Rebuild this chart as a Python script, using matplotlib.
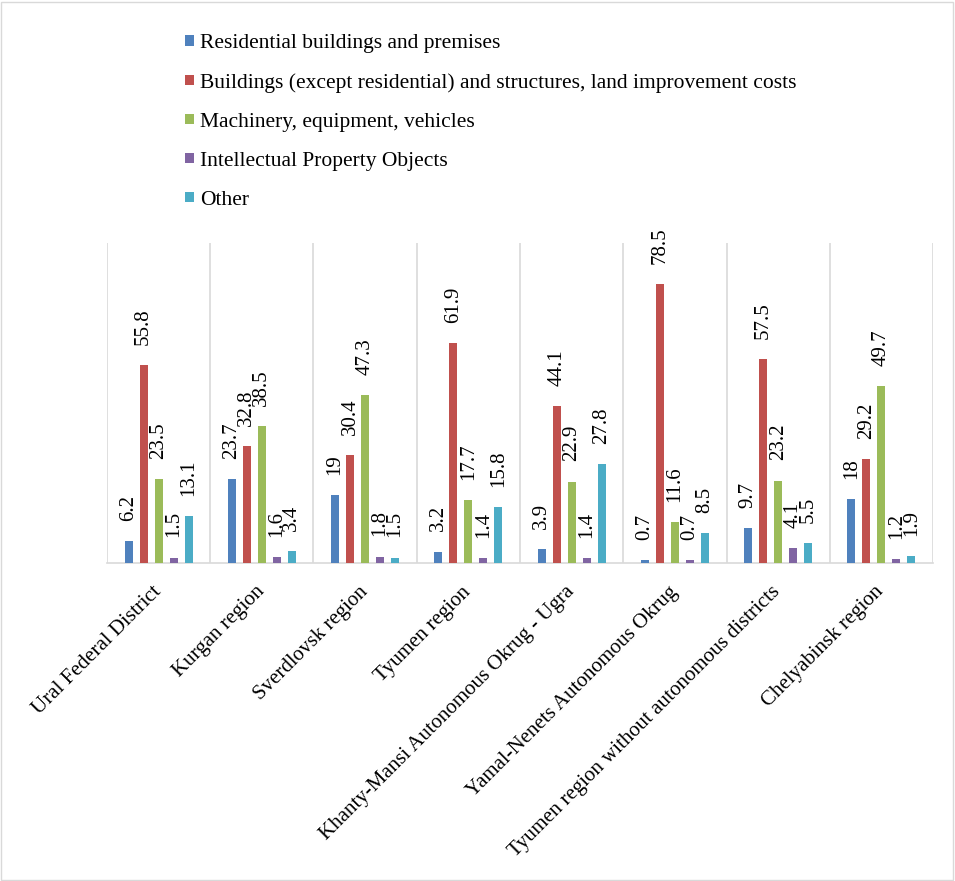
import numpy as np
import matplotlib.pyplot as plt
from matplotlib.patches import Rectangle
from matplotlib.transforms import ScaledTranslation

plt.rcParams['font.family'] = ['Liberation Serif', 'DejaVu Serif']

regions = [
    "Ural Federal District",
    "Kurgan region",
    "Sverdlovsk region",
    "Tyumen region",
    "Khanty-Mansi Autonomous Okrug - Ugra",
    "Yamal-Nenets Autonomous Okrug",
    "Tyumen region without autonomous districts",
    "Chelyabinsk region",
]
series_names = [
    "Residential buildings and premises",
    "Buildings (except residential) and structures, land improvement costs",
    "Machinery, equipment, vehicles",
    "Intellectual Property Objects",
    "Other",
]
residential = [6.2, 23.7, 19, 3.2, 3.9, 0.7, 9.7, 18]
buildings = [55.8, 32.8, 30.4, 61.9, 44.1, 78.5, 57.5, 29.2]
machinery = [23.5, 38.5, 47.3, 17.7, 22.9, 11.6, 23.2, 49.7]
intellectual = [1.5, 1.6, 1.8, 1.4, 1.4, 0.7, 4.1, 1.2]
other = [13.1, 3.4, 1.5, 15.8, 27.8, 8.5, 5.5, 1.9]

colors = ["#4F81BD", "#C0504D", "#9BBB59", "#8064A2", "#4BACC6"]

fig = plt.figure(figsize=(9.55, 8.81), dpi=100)
ax = fig.add_axes([0.112, 0.361, 0.865, 0.363])

x = np.arange(len(regions))
step = 0.145
width = 0.078
all_series = [residential, buildings, machinery, intellectual, other]
for i, (vals, name, c) in enumerate(zip(all_series, series_names, colors)):
    pos = x + (i - 2) * step
    ax.bar(pos, vals, width=width, color=c, label=name, zorder=3)
    for px, v in zip(pos, vals):
        ax.annotate(f"{v:g}", (px, v), xytext=(0, 14.5), textcoords="offset points",
                    rotation=90, ha="center", va="bottom", fontsize=15)

ax.set_xlim(-0.5, len(regions) - 0.5)
ax.set_ylim(0, 90)
ax.set_yticks([])
for b in np.arange(-0.5, len(regions), 1):
    ax.axvline(b, color="#D9D9D9", lw=1.2, zorder=1)
for s in ["top", "left", "right"]:
    ax.spines[s].set_visible(False)
ax.spines["bottom"].set_color("#D9D9D9")
ax.spines["bottom"].set_linewidth(1.2)
ax.set_xticks(x)
ax.set_xticklabels(regions, rotation=45, ha="right", va="top",
                   rotation_mode="anchor", fontsize=15)
ax.tick_params(axis="x", length=0, pad=14)
shift = ScaledTranslation(-7 / 100, 0, fig.dpi_scale_trans)
for lbl in ax.get_xticklabels():
    lbl.set_transform(lbl.get_transform() + shift)

fig.legend(loc="upper left", bbox_to_anchor=(0.1735, 0.9835), frameon=False,
           fontsize=15.5, handlelength=0.4, handleheight=0.4, handletextpad=0.3,
           labelspacing=0.93)

fig.add_artist(Rectangle((0.001, 0.001), 0.997, 0.997, transform=fig.transFigure,
                         fill=False, edgecolor="#D9D9D9", lw=1))

fig.savefig("out.png", dpi=100)
